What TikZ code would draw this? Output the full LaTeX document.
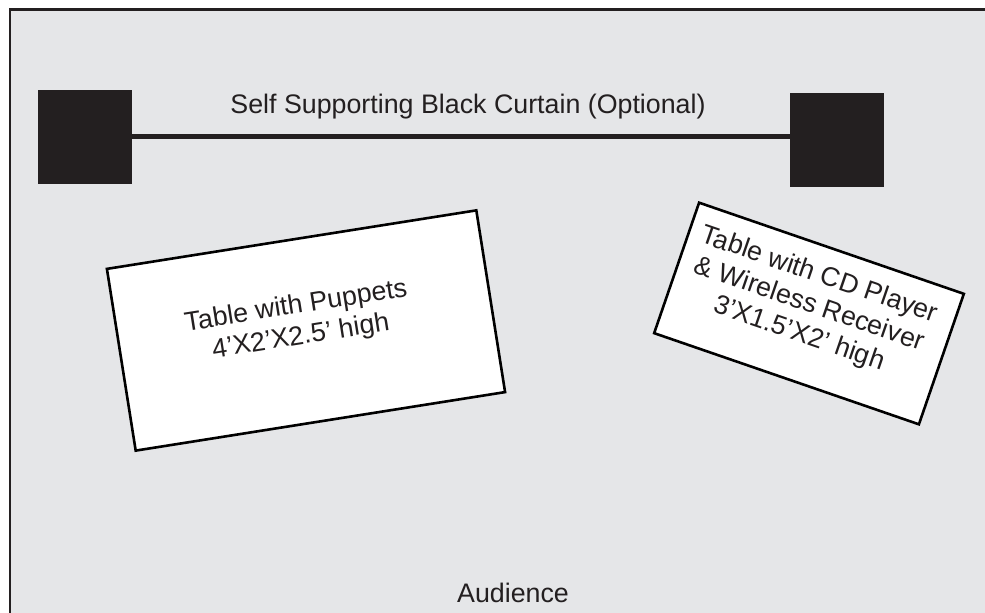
\documentclass[tikz,border=0pt]{standalone}
\usepackage{fontspec}
\setmainfont{Liberation Sans}
\usepackage{tikz}
\usetikzlibrary{calc}

\definecolor{ink}{RGB}{35,31,32}
\definecolor{floor}{RGB}{229,230,232}

\tikzset{
  post/.style={draw=ink,fill=ink,minimum size=46.5pt,inner sep=0pt},
  tablebox/.style={draw=black,fill=white,line width=1.3pt,inner sep=0pt},
  tabletext/.style={text=ink,align=center,font=\fontsize{13.4}{15.5}\selectfont},
  caption/.style={text=ink,font=\fontsize{13.4}{15.5}\selectfont}
}

\begin{document}
\begin{tikzpicture}[x=0.5pt,y=-0.5pt]
            \useasboundingbox (0,0) rectangle (985,613);
            % The floor and the frame
            \fill[floor] (10,9.5) rectangle (985,613);
            \draw[ink,line width=1.3pt] (10,613) -- (10,9.5) -- (985,9.5);

            % The curtain
            \node[post] (lpost) at (84.5,136.5) {};
            \node[post] (rpost) at (837,139.5) {};
            \draw[ink,line width=2.6pt] (lpost.east) -- (lpost.east -| rpost.west);
            \node[caption,anchor=base] (curtain) at (468,114) {Self Supporting Black Curtain (Optional)};

            % The tables
            \node[tablebox,minimum width=187pt,minimum height=92pt,rotate=9] (puppets) at (306,330.5) {};
            \node[tabletext,rotate=9] (puppetstext) at (298.5,322) {Table with Puppets\\4'X2'X2.5' high};
            \node[tablebox,minimum width=140pt,minimum height=69pt,rotate=-19] (player) at (809,313.5) {};
            \node[tabletext,rotate=-19] (playertext) at (809,305) {Table with CD Player\\\& Wireless Receiver\\3'X1.5'X2' high};

            % The audience
            \node[caption,anchor=base] (audience) at (513,603) {Audience};
        \end{tikzpicture}
\end{document}
